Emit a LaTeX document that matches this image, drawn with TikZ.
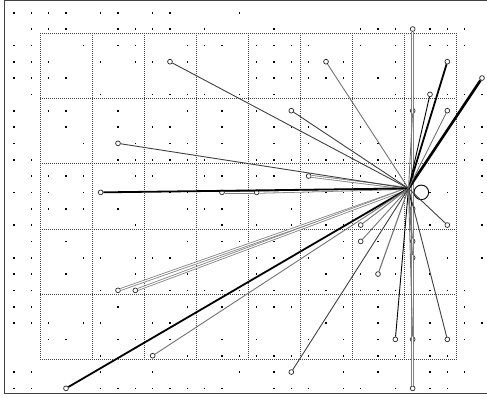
\documentclass[tikz,border=0pt]{standalone}
\begin{document}
\begin{tikzpicture}[x=17.3333pt, y=-16.3333pt,
  frame/.style={draw=black!75, line width=1.2pt},
  gridl/.style={draw=black!75, line width=0.6pt, dash pattern=on 1pt off 1pt},
  endc/.style={circle, draw=black!85, fill=white, inner sep=0pt, minimum size=4.8pt, line width=0.7pt},
  bigc/.style={circle, draw=black, fill=white, inner sep=0pt, minimum size=14.6pt, line width=0.9pt},
  thinb/.style={draw=black, line width=0.9pt},
  thing/.style={draw=black!55, line width=0.9pt},
  midg/.style={draw=black!75, line width=0.9pt},
  thickb/.style={draw=black, line width=1.8pt},
  vthickb/.style={draw=black, line width=2.6pt},
  pipe/.style={draw=black!50, line width=0.8pt, double=white, double distance=1.1pt}]
\useasboundingbox (-14pt,12.7pt) rectangle (473pt,-384.3pt);
% frame
\draw[frame] (473pt,11.9pt) -- (-9.5pt,11.9pt) -- (-9.5pt,-380.6pt) -- (473pt,-380.6pt);
% grid
\foreach \k in {0,...,8} \draw[gridl] ({1.5+3*\k},1.25) -- ({1.5+3*\k},21.25);
\foreach \k in {0,...,5} \draw[gridl] (1.5,{1.25+4*\k}) -- (25.5,{1.25+4*\k});
% dots
\foreach \j/\cols in {
0/{0,1,2,3,5,6,8,9,13},
1/{1,2,3,6,7,8,9,11,15,20,21,22,24,25,26},
2/{0,1,4,6,7,10,11,12,14,15,16,17,20,22,23,24,25,26},
3/{0,1,2,5,7,8,10,14,15,16,17,19,22},
4/{0,1,2,3,14,15,16,17,18,19,21,22,23},
5/{1,5,8,9,10,11,13,15,22,25,26,27},
6/{0,2,3,6,10,12,14,22},
7/{0,3,6,8,9,12,15,16,17,18,20,22,23,26,27},
8/{0,4,7,9,10,12,15,17,20,21,23,26,27},
9/{0,1,6,7,8,9,10,11,14,15,16,17,18,19,21,22,26,27},
10/{1,2,3,4,7,8,11,12,14,15,20,22,27},
11/{0,1,2,4,6,9,10,16,17,18,19,20,21,22,24,25,27},
12/{1,2,3,4,6,10,11,12,16},
13/{0,1,7,12,14,16,17,18,19,22,24,27},
14/{1,3,10,12,13,15,19,21},
15/{0,1,4,5,7,8,9,12,14,15,17,19,21,22,25,27},
16/{0,1,3,7,10,14,18,20,22,24},
17/{0,1,5,9,10,11,12,13,15,17,18,20,21,22,24,25,26},
18/{0,1,6,10,12,14,15,16,19,21,26},
19/{0,1,2,4,5,8,9,18,21,23,24,26,27},
20/{2,3,6,7,9,12,14,17,19,21,24,26},
21/{5,10,12,13,14,15,16,17,19,21,22,23,24,25},
22/{0,1,5,8,13,15,19,21,24,25,26},
23/{0,1,5,6,7,8,9,10,11,12,15,16,17,19,20,22,24,25}}
{\foreach \i in \cols {\fill[black] (\i,\j) ++(-0.8pt,-0.8pt) rectangle ++(1.6pt,1.6pt);}}
% hub and end circles
\coordinate (hub) at (22.76,10.76);
\node[endc] (a1) at (9,3) {};
\node[endc] (a2) at (6,8) {};
\node[endc] (a3) at (5,11) {};
\node[endc] (a4) at (12,11) {};
\node[endc] (a5) at (14,11) {};
\node[endc] (v1) at (23,1) {};
\node[endc] (a7) at (18,3) {};
\node[endc] (a8) at (25,3) {};
\node[endc] (a9) at (27,4) {};
\node[endc] (a10) at (24,5) {};
\node[endc] (v6) at (23,6) {};
\node[endc] (a12) at (25,6) {};
\node[endc] (a13) at (16,6) {};
\node[endc] (a14) at (17,10) {};
\node[endc] (a15) at (6,17) {};
\node[endc] (a16) at (7,17) {};
\node[endc] (a17) at (3,23) {};
\node[endc] (a18) at (8,21) {};
\node[endc] (a19) at (20,13) {};
\node[endc] (a20) at (25,13) {};
\node[endc] (a21) at (20,14) {};
\node[endc] (v12) at (23,12) {};
\node[endc] (v14) at (23,14) {};
\node[endc] (v15) at (23,15) {};
\node[endc] (a25) at (21,16) {};
\node[endc] (a26) at (16,22) {};
\node[endc] (a27) at (22,20) {};
\node[endc] (v20) at (23,20) {};
\node[endc] (a29) at (25,20) {};
\node[endc] (v23) at (23,23) {};
\node[bigc] (big) at (23.5,11) {};
% connectors
\path[pipe] (v1) -- (v23);
\path[pipe] (a4) -- (a5);
\path[pipe] (a5) -- (hub);
\path[pipe] (a14) -- (hub);
\path[pipe] (a15) -- (hub);
\path[pipe] (a16) -- (hub);
\path[midg] (a1) -- (hub);
\path[midg] (a2) -- (hub);
\path[thickb] (a3) -- (hub);
\path[thing] (a7) -- (hub);
\path[thickb] (a8) -- (hub);
\path[vthickb] (a9) -- (hub);
\path[thinb] (a10) -- (hub);
\path[thing] (v6) -- (hub);
\path[thing] (a12) -- (hub);
\path[midg] (a13) -- (hub);
\path[thickb] (a17) -- (hub);
\path[thing] (a18) -- (hub);
\path[thing] (a19) -- (hub);
\path[midg] (a20) -- (hub);
\path[thing] (a21) -- (hub);
\path[thinb] (v12) -- (hub);
\path[thing] (v14) -- (hub);
\path[thing] (v15) -- (hub);
\path[thing, line width=1.1pt] (a25) -- (hub);
\path[midg] (a26) -- (hub);
\path[thinb] (a27) -- (hub);
\path[thing] (v20) -- (hub);
\path[midg] (a29) -- (hub);
\end{tikzpicture}
\end{document}
